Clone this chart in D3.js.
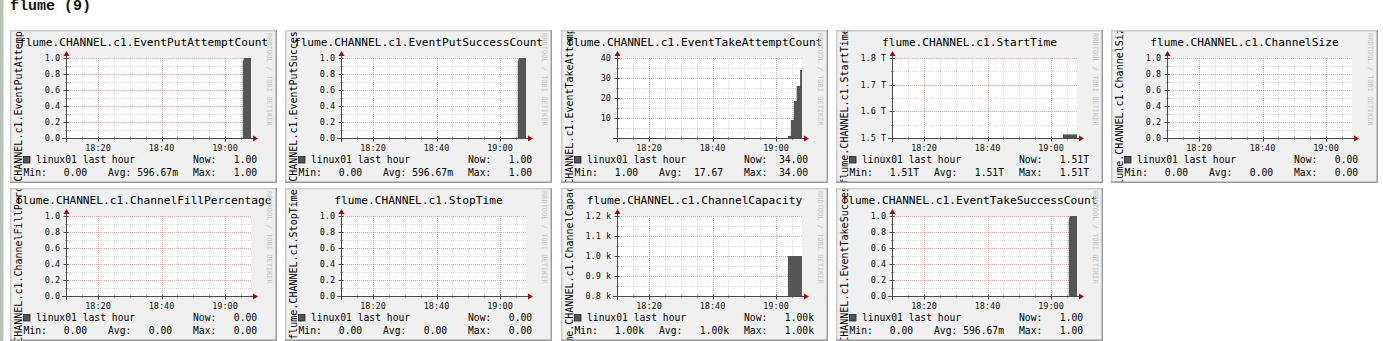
<!DOCTYPE html>
<html>
<head>
<meta charset="utf-8">
<script src="https://cdn.jsdelivr.net/npm/d3@7"></script>
<style>
	body { margin: 0; background: #fff; overflow: hidden; }
	text { font-family: "DejaVu Sans Mono", monospace; }
</style>
</head>
<body>
<svg id="page" width="1383" height="341"></svg>
<script>
// ---- data ----
var pageTitle = "flume (9)";
var hostLabel = "linux01 last hour";

var metrics = [
	"flume.CHANNEL.c1.EventPutAttemptCount",
	"flume.CHANNEL.c1.EventPutSuccessCount",
	"flume.CHANNEL.c1.EventTakeAttemptCount",
	"flume.CHANNEL.c1.StartTime",
	"flume.CHANNEL.c1.ChannelSize",
	"flume.CHANNEL.c1.ChannelFillPercentage",
	"flume.CHANNEL.c1.StopTime",
	"flume.CHANNEL.c1.ChannelCapacity",
	"flume.CHANNEL.c1.EventTakeSuccessCount"
];
var metricScale = ["unit", "unit", "take", "start", "unit", "unit", "unit", "cap", "unit"];

var sampleTimes = ["19:03:45", "19:04:40", "19:05:35", "19:05:50", "19:06:30", "19:07:35", "19:08:11"];
var putAttempt   = [0, 0, 0.97, 1, 1, 1, 1];
var putSuccess   = [0, 0, 0.97, 1, 1, 1, 1];
var takeAttempt  = [1, 9, 18.5, 18.5, 26, 34, 34];
var startTime    = [1.5135e12, 1.5135e12, 1.5135e12, 1.5135e12, 1.5135e12, 1.5135e12, 1.5135e12];
var channelSize  = [0, 0, 0, 0, 0, 0, 0];
var fillPercent  = [0, 0, 0, 0, 0, 0, 0];
var stopTime     = [0, 0, 0, 0, 0, 0, 0];
var capacity     = [1000, 1000, 1000, 1000, 1000, 1000, 1000];
var takeSuccess  = [0, 0, 0.97, 1, 1, 1, 1];
var seriesValues = [putAttempt, putSuccess, takeAttempt, startTime, channelSize,
	fillPercent, stopTime, capacity, takeSuccess];

var nowVals = ["1.00", "1.00", "34.00", "1.51T", "0.00", "0.00", "0.00", "1.00k", "1.00"];
var minVals = ["0.00", "0.00", "1.00", "1.51T", "0.00", "0.00", "0.00", "1.00k", "0.00"];
var avgVals = ["596.67m", "596.67m", "17.67", "1.51T", "0.00", "0.00", "0.00", "1.00k", "596.67m"];
var maxVals = ["1.00", "1.00", "34.00", "1.51T", "0.00", "0.00", "0.00", "1.00k", "1.00"];

var timeTickLabels = ["18:20", "18:40", "19:00"];
var unitTickValues = [0, 0.2, 0.4, 0.6, 0.8, 1.0];
var unitTickLabels = ["0.0", "0.2", "0.4", "0.6", "0.8", "1.0"];
var takeTickValues = [10, 20, 30, 40];
var takeTickLabels = ["10", "20", "30", "40"];
var startTickValues = [1.5e12, 1.6e12, 1.7e12, 1.8e12];
var startTickLabels = ["1.5 T", "1.6 T", "1.7 T", "1.8 T"];
var capTickValues = [800, 900, 1000, 1100, 1200];
var capTickLabels = ["0.8 k", "0.9 k", "1.0 k", "1.1 k", "1.2 k"];

// ---- layout ----
var colLeft = [10, 285, 561, 836, 1111];
var rowTop = [30, 188];
var panelW = 267, panelH = 153;
var plotL = 56, plotT = 28, plotW = 185, plotH = 80;

var yConf = {
	unit:  { domain: [0, 1], ticks: unitTickValues, labels: unitTickLabels, minor: 0.1 },
	take:  { domain: [0, 40], ticks: takeTickValues, labels: takeTickLabels, minor: 5 },
	start: { domain: [1.5e12, 1.8e12], ticks: startTickValues, labels: startTickLabels, minor: 0.05e12 },
	cap:   { domain: [800, 1200], ticks: capTickValues, labels: capTickLabels, minor: 50 }
};

var parseT = d3.timeParse("%H:%M:%S");
var t0 = parseT("18:09:55"), t1 = parseT("19:08:11");

var svg = d3.select("#page");

// left page strip and heading
svg.append("rect").attr("x", 0).attr("y", 0).attr("width", 3).attr("height", 341).attr("fill", "#b7c2b7");
svg.append("rect").attr("x", 3).attr("y", 0).attr("width", 1).attr("height", 341).attr("fill", "#dfe5df");
svg.append("text").attr("x", 10).attr("y", 10)
	.style("font-family", "'Liberation Mono', monospace")
	.attr("font-size", 15).attr("font-weight", "bold").attr("fill", "#111")
	.text(pageTitle);

var minorGrid = "rgba(140,140,140,0.35)", majorGrid = "rgba(230,90,90,0.42)";

metrics.forEach(function (name, i) {
	var row = i < 5 ? 0 : 1, col = i < 5 ? i : i - 5;
	var cfg = yConf[metricScale[i]];
	var g = svg.append("g").attr("transform", "translate(" + colLeft[col] + "," + rowTop[row] + ")");

	g.append("clipPath").attr("id", "clip" + i)
		.append("rect").attr("width", panelW).attr("height", panelH);
	var p = g.append("g").attr("clip-path", "url(#clip" + i + ")");

	p.append("rect").attr("width", panelW).attr("height", panelH).attr("fill", "#f0f0f0");

	var x = d3.scaleTime().domain([t0, t1]).range([plotL, plotL + plotW]);
	var y = d3.scaleLinear().domain(cfg.domain).range([plotT + plotH, plotT]);

	p.append("rect").attr("x", plotL).attr("y", plotT)
		.attr("width", plotW).attr("height", plotH).attr("fill", "#fff");

	// grid
	var minorT = x.ticks(d3.timeMinute.every(5));
	var majorT = timeTickLabels.map(function (s) { return parseT(s + ":00"); });
	var minorY = d3.range(cfg.domain[0], cfg.domain[1] + cfg.minor / 2, cfg.minor);

	p.selectAll(".vmin").data(minorT).enter().append("line")
		.attr("x1", function (d) { return Math.round(x(d)) + 0.5; })
		.attr("x2", function (d) { return Math.round(x(d)) + 0.5; })
		.attr("y1", plotT).attr("y2", plotT + plotH)
		.attr("stroke", minorGrid).attr("stroke-dasharray", "1,1");
	p.selectAll(".hmin").data(minorY).enter().append("line")
		.attr("x1", plotL).attr("x2", plotL + plotW)
		.attr("y1", function (d) { return Math.round(y(d)) + 0.5; })
		.attr("y2", function (d) { return Math.round(y(d)) + 0.5; })
		.attr("stroke", minorGrid).attr("stroke-dasharray", "1,1");
	p.selectAll(".vmaj").data(majorT).enter().append("line")
		.attr("x1", function (d) { return Math.round(x(d)) + 0.5; })
		.attr("x2", function (d) { return Math.round(x(d)) + 0.5; })
		.attr("y1", plotT).attr("y2", plotT + plotH)
		.attr("stroke", majorGrid).attr("stroke-dasharray", "1,1");
	p.selectAll(".hmaj").data(cfg.ticks).enter().append("line")
		.attr("x1", plotL).attr("x2", plotL + plotW)
		.attr("y1", function (d) { return Math.round(y(d)) + 0.5; })
		.attr("y2", function (d) { return Math.round(y(d)) + 0.5; })
		.attr("stroke", majorGrid).attr("stroke-dasharray", "1,1");

	// area
	var pts = sampleTimes.map(function (t, k) { return { t: parseT(t), v: seriesValues[i][k] }; });
	var area = d3.area()
		.x(function (d) { return x(d.t); })
		.y0(y(cfg.domain[0]))
		.y1(function (d) { return y(d.v); })
		.curve(d3.curveStepAfter);
	p.append("path").datum(pts).attr("d", area).attr("fill", "#555555");

	// axes
	var ox = plotL + 0.5, oy = plotT + plotH + 0.5;
	p.append("line").attr("x1", plotL - 4).attr("x2", plotL + plotW + 4)
		.attr("y1", oy).attr("y2", oy).attr("stroke", "#4a4a4a");
	p.append("line").attr("x1", ox).attr("x2", ox)
		.attr("y1", plotT + plotH + 4).attr("y2", plotT - 4).attr("stroke", "#4a4a4a");
	p.append("path").attr("fill", "#9a1010")
		.attr("d", "M" + (plotL + plotW + 2) + "," + (oy - 3) + "L" + (plotL + plotW + 7) + "," + oy +
			"L" + (plotL + plotW + 2) + "," + (oy + 3) + "Z");
	p.append("path").attr("fill", "#9a1010")
		.attr("d", "M" + (ox - 3) + "," + (plotT - 2) + "L" + ox + "," + (plotT - 7) +
			"L" + (ox + 3) + "," + (plotT - 2) + "Z");

	// tick marks
	p.selectAll(".xt").data(minorT).enter().append("line")
		.attr("x1", function (d) { return Math.round(x(d)) + 0.5; })
		.attr("x2", function (d) { return Math.round(x(d)) + 0.5; })
		.attr("y1", oy - 1).attr("y2", oy + 1).attr("stroke", "#4a4a4a");
	p.selectAll(".xT").data(majorT).enter().append("line")
		.attr("x1", function (d) { return Math.round(x(d)) + 0.5; })
		.attr("x2", function (d) { return Math.round(x(d)) + 0.5; })
		.attr("y1", oy - 2).attr("y2", oy + 3).attr("stroke", "#4a4a4a");
	p.selectAll(".yT").data(cfg.ticks).enter().append("line")
		.attr("x1", ox - 3).attr("x2", ox + 2)
		.attr("y1", function (d) { return Math.round(y(d)) + 0.5; })
		.attr("y2", function (d) { return Math.round(y(d)) + 0.5; })
		.attr("stroke", "#4a4a4a");
	p.selectAll(".yt").data(minorY).enter().append("line")
		.attr("x1", ox - 1).attr("x2", ox + 1)
		.attr("y1", function (d) { return Math.round(y(d)) + 0.5; })
		.attr("y2", function (d) { return Math.round(y(d)) + 0.5; })
		.attr("stroke", "#4a4a4a");

	// tick labels
	p.selectAll(".yl").data(cfg.ticks).enter().append("text")
		.attr("x", plotL - 6).attr("y", function (d) { return y(d) + 3; })
		.attr("text-anchor", "end").attr("font-size", 8.5).attr("fill", "#111")
		.text(function (d, k) { return cfg.labels[k]; });
	p.selectAll(".xl").data(majorT).enter().append("text")
		.attr("x", function (d) { return x(d); }).attr("y", plotT + plotH + 12.5)
		.attr("text-anchor", "middle").attr("font-size", 8.5).attr("fill", "#111")
		.text(function (d, k) { return timeTickLabels[k]; });

	// title, vertical label, watermark
	p.append("text").attr("x", panelW / 2).attr("y", 15.5)
		.attr("text-anchor", "middle").attr("font-size", 11.2).attr("fill", "#000")
		.text(name);
	p.append("text").attr("transform", "translate(11.5," + (panelH / 2) + ") rotate(-90)")
		.attr("text-anchor", "middle").attr("font-size", 10).attr("fill", "#000")
		.text(name);
	p.append("text").attr("transform", "translate(257,3) rotate(90)")
		.attr("font-size", 7).attr("fill", "#c4c4c4")
		.text("RRDTOOL / TOBI OETIKER");

	// legend
	var cw = 9.7 * 0.602;
	function valText(v, xEnd, yy) {
		var dx = /[0-9]$/.test(v) ? cw : 0;
		p.append("text").attr("x", xEnd - dx).attr("y", yy)
			.attr("text-anchor", "end").attr("font-size", 9.7).attr("fill", "#000").text(v);
	}
	function label(s, xx, yy) {
		p.append("text").attr("x", xx).attr("y", yy)
			.attr("font-size", 9.7).attr("fill", "#000").text(s);
	}
	p.append("rect").attr("x", 13.5).attr("y", 126.5).attr("width", 6.5).attr("height", 6.5)
		.attr("fill", "#555555").attr("stroke", "#222").attr("stroke-width", 0.8);
	label(hostLabel, 26, 133);
	label("Now:", 183, 133);
	valText(nowVals[i], 253, 133);
	label("Min:", 13.5, 145.5);
	valText(minVals[i], 83, 145.5);
	label("Avg:", 98, 145.5);
	valText(avgVals[i], 168, 145.5);
	label("Max:", 183, 145.5);
	valText(maxVals[i], 253, 145.5);

	// frame
	g.append("path").attr("fill", "none").attr("stroke", "#cbcbcb").attr("stroke-width", 1.5)
		.attr("d", "M0.75," + panelH + "V0.75H" + panelW);
	g.append("path").attr("fill", "none").attr("stroke", "#9c9c9c").attr("stroke-width", 1.5)
		.attr("d", "M" + (panelW - 0.75) + ",0V" + (panelH - 0.75) + "H0");
});
</script>
</body>
</html>
